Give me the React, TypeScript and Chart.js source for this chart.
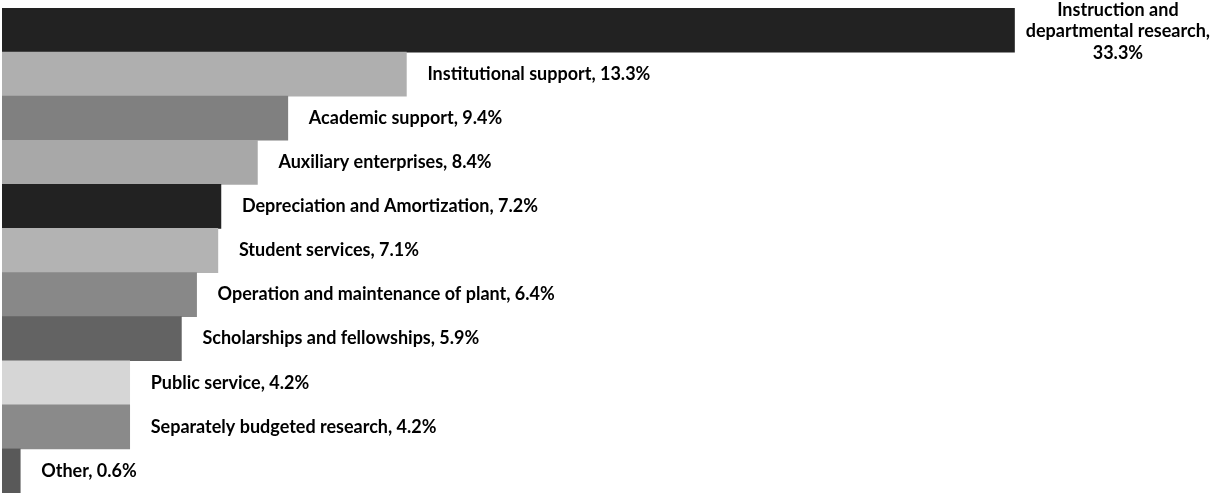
import React, { useEffect, useRef } from "react";
import { Chart, registerables } from "chart.js";

Chart.register(...registerables);

const categories = [
  "Instruction and departmental research",
  "Institutional support",
  "Academic support",
  "Auxiliary enterprises",
  "Depreciation and Amortization",
  "Student services",
  "Operation and maintenance of plant",
  "Scholarships and fellowships",
  "Public service",
  "Separately budgeted research",
  "Other",
];

const values = [33.3, 13.3, 9.4, 8.4, 7.2, 7.1, 6.4, 5.9, 4.2, 4.2, 0.6];

const barColors = [
  "#222222",
  "#afafaf",
  "#808080",
  "#a8a8a8",
  "#222222",
  "#b3b3b3",
  "#888888",
  "#636363",
  "#d6d6d6",
  "#8a8a8a",
  "#595959",
];

const LABEL_FONT = "bold 18px Lato, 'Open Sans', sans-serif";

const labelPlugin = {
  id: "barLabels",
  afterDatasetsDraw(chart: any) {
    const ctx = chart.ctx as CanvasRenderingContext2D;
    const meta = chart.getDatasetMeta(0);
    const canvasW = chart.width;
    ctx.save();
    ctx.font = LABEL_FONT;
    ctx.fillStyle = "#000000";
    ctx.textBaseline = "middle";
    meta.data.forEach((bar: any, i: number) => {
      const valueText = `${values[i].toFixed(1)}%`;
      const text = `${categories[i]}, ${valueText}`;
      const x = bar.x + 21;
      const y = bar.y;
      const w = ctx.measureText(text).width;
      if (x + w <= canvasW - 2) {
        ctx.textAlign = "left";
        ctx.fillText(text, x, y);
      } else {
        const maxW = Math.max(canvasW - x, 190);
        const words = `${categories[i]},`.split(" ");
        const lines: string[] = [];
        let cur = "";
        for (const word of words) {
          const test = cur ? cur + " " + word : word;
          if (ctx.measureText(test).width > maxW && cur) {
            lines.push(cur);
            cur = word;
          } else {
            cur = test;
          }
        }
        if (cur) lines.push(cur);
        lines.push(valueText);
        const lh = 21.5;
        const blockW = Math.max(...lines.map((l) => ctx.measureText(l).width));
        const cx = Math.min(x + blockW / 2, canvasW - blockW / 2 - 3);
        ctx.textAlign = "center";
        lines.forEach((l, k) => {
          ctx.fillText(l, cx, y + 1.5 + (k - (lines.length - 1) / 2) * lh);
        });
      }
    });
    ctx.restore();
  },
};

export default function App() {
  const canvasRef = useRef<HTMLCanvasElement | null>(null);

  useEffect(() => {
    document.body.style.margin = "0";
    const canvas = canvasRef.current;
    if (!canvas) return;
    const chart = new Chart(canvas, {
      type: "bar",
      data: {
        labels: categories,
        datasets: [
          {
            data: values,
            backgroundColor: barColors,
            borderWidth: 0,
            barPercentage: 1,
            categoryPercentage: 1,
          },
        ],
      },
      options: {
        indexAxis: "y",
        animation: false,
        responsive: false,
        maintainAspectRatio: false,
        layout: { padding: { left: 2, top: 8, bottom: 1, right: 10 } },
        scales: {
          x: { display: false, min: 0, max: 39.5 },
          y: { display: false },
        },
        plugins: {
          legend: { display: false },
          tooltip: { enabled: false },
        },
      },
      plugins: [labelPlugin],
    });
    return () => chart.destroy();
  }, []);

  return (
    <div style={{ position: "fixed", left: 0, top: 0, width: 1213, height: 494, background: "#ffffff" }}>
      <canvas ref={canvasRef} width={1213} height={494} style={{ width: 1213, height: 494 }} />
    </div>
  );
}
